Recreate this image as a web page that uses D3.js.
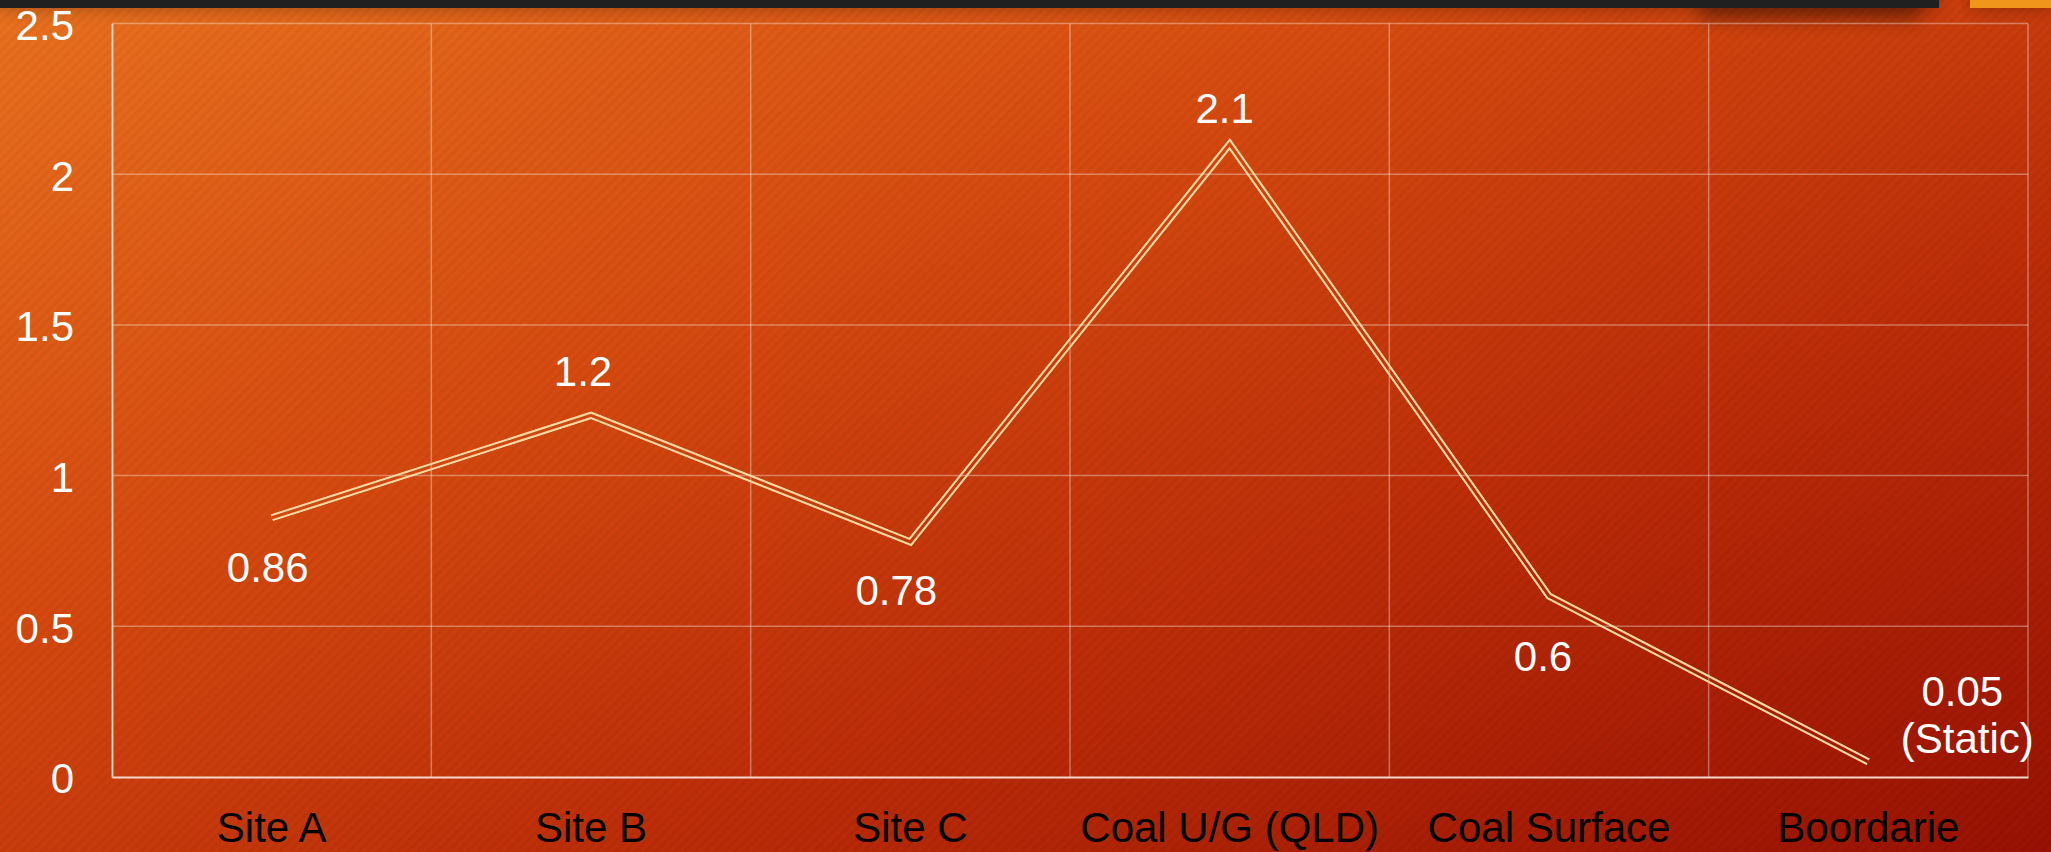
<!DOCTYPE html>
<html>
<head>
<meta charset="utf-8">
<script src="https://cdn.jsdelivr.net/npm/d3@7"></script>
<style>
  html, body { margin: 0; padding: 0; background: #c23a0c; overflow: hidden; }
  svg { display: block; }
  text { font-family: "Liberation Sans", Arial, sans-serif; }
</style>
</head>
<body>
<svg id="chart" width="2051" height="852"></svg>
<script>
// Sites compared and their measured values
const categories = ["Site A", "Site B", "Site C", "Coal U/G (QLD)", "Coal Surface", "Boordarie"];
const values = [0.86, 1.2, 0.78, 2.1, 0.6, 0.05];
const valueNotes = ["", "", "", "", "", "(Static)"];
const yTicks = [0, 0.5, 1, 1.5, 2, 2.5];

const W = 2051, H = 852;
const margin = { left: 112, right: 23, top: 23.5, bottom: 75 };
const FONT = 42;

const svg = d3.select("#chart");
const defs = svg.append("defs");

// Background: diagonal orange-to-red gradient with a fine stripe texture
const bg = defs.append("linearGradient").attr("id", "bgGrad")
  .attr("x1", 0).attr("y1", 0).attr("x2", 1).attr("y2", 1);
[[0, "#e9711f"], [0.35, "#d64b10"], [0.65, "#bc2d08"], [1, "#981103"]].forEach(([o, c]) =>
  bg.append("stop").attr("offset", o).attr("stop-color", c));

const stripes = defs.append("pattern").attr("id", "stripes")
  .attr("patternUnits", "userSpaceOnUse").attr("width", 7).attr("height", 7)
  .attr("patternTransform", "rotate(45)");
stripes.append("rect").attr("width", 3).attr("height", 7).attr("fill", "#000").attr("opacity", 0.04);

const shade = defs.append("filter").attr("id", "shade")
  .attr("x", "-10%").attr("y", "-200%").attr("width", "120%").attr("height", "500%");
shade.append("feGaussianBlur").attr("stdDeviation", 9);

svg.append("rect").attr("width", W).attr("height", H).attr("fill", "url(#bgGrad)");
svg.append("rect").attr("width", W).attr("height", H).attr("fill", "url(#stripes)");

// Header band and its soft shadow
svg.append("rect").attr("x", 0).attr("y", -14).attr("width", 1939).attr("height", 22)
  .attr("fill", "#000").attr("opacity", 0.3).attr("filter", "url(#shade)");
svg.append("rect").attr("x", 1700).attr("y", -10).attr("width", 220).attr("height", 30)
  .attr("fill", "#000").attr("opacity", 0.35).attr("filter", "url(#shade)");
svg.append("rect").attr("x", 1970).attr("y", -12).attr("width", 81).attr("height", 20)
  .attr("fill", "#000").attr("opacity", 0.3).attr("filter", "url(#shade)");
svg.append("rect").attr("x", 0).attr("y", 0).attr("width", 1939).attr("height", 8).attr("fill", "#202020");
svg.append("rect").attr("x", 1970).attr("y", 0).attr("width", 81).attr("height", 8).attr("fill", "#f0961a");

// Scales
const x = d3.scaleBand().domain(categories)
  .range([margin.left, W - margin.right]).paddingInner(0).paddingOuter(0);
const y = d3.scaleLinear().domain([0, 2.5]).range([H - margin.bottom, margin.top]);
const y0 = y(0);

// Gridlines
const grid = svg.append("g");
grid.selectAll(".hgrid").data(yTicks.filter(t => t > 0)).join("line")
  .attr("x1", margin.left).attr("x2", W - margin.right)
  .attr("y1", d => y(d)).attr("y2", d => y(d))
  .attr("stroke", "#ffffff").attr("stroke-opacity", 0.35).attr("stroke-width", 1.5);
const edges = categories.map(c => x(c) + x.bandwidth());
grid.selectAll(".vgrid").data(edges).join("line")
  .attr("x1", d => d).attr("x2", d => d)
  .attr("y1", y(2.5)).attr("y2", y0)
  .attr("stroke", "#ffffff").attr("stroke-opacity", 0.35).attr("stroke-width", 1.5);

// Axes
const yAxis = svg.append("g").attr("transform", `translate(${margin.left},0)`)
  .call(d3.axisLeft(y).tickValues(yTicks).tickSize(0).tickPadding(38).tickFormat(d3.format("~g")));
yAxis.select(".domain").attr("stroke", "#f6d7cb").attr("stroke-width", 1.8);
yAxis.selectAll("text").attr("fill", "#ffffff").attr("font-size", FONT)
  .attr("font-family", "Liberation Sans, Arial, sans-serif").attr("dy", "0.38em");

const xAxis = svg.append("g").attr("transform", `translate(0,${y0})`)
  .call(d3.axisBottom(x).tickSize(0));
xAxis.select(".domain").attr("stroke", "#f6d7cb").attr("stroke-width", 1.8);
xAxis.selectAll("text").attr("fill", "#000000").attr("font-size", FONT)
  .attr("font-family", "Liberation Sans, Arial, sans-serif").attr("y", 65).attr("dy", 0);

// Data line drawn as a double (compound) stroke
const pts = categories.map((c, i) => [x(c) + x.bandwidth() / 2, y(values[i])]);
const line = d3.line();
const OUTER = 7.5, GAP = 3;
const mask = defs.append("mask").attr("id", "dblMask").attr("maskUnits", "userSpaceOnUse")
  .attr("x", 0).attr("y", 0).attr("width", W).attr("height", H);
mask.append("rect").attr("width", W).attr("height", H).attr("fill", "#000");
mask.append("path").attr("d", line(pts)).attr("fill", "none").attr("stroke", "#fff")
  .attr("stroke-width", OUTER).attr("stroke-linejoin", "miter").attr("stroke-miterlimit", 10);
mask.append("path").attr("d", line(pts)).attr("fill", "none").attr("stroke", "#000")
  .attr("stroke-width", GAP).attr("stroke-linejoin", "miter").attr("stroke-miterlimit", 10);
svg.append("path").attr("d", line(pts)).attr("fill", "none").attr("stroke", "#fcd8a0")
  .attr("stroke-width", OUTER).attr("stroke-linejoin", "miter").attr("stroke-miterlimit", 10)
  .attr("mask", "url(#dblMask)");

// Value labels
const labelShift = [[-4, 64], [-8, -29], [-14, 63], [-5, -21], [-6, 75], [94, -56]];
const labels = svg.append("g").attr("fill", "#ffffff").attr("font-size", FONT)
  .attr("text-anchor", "middle");
values.forEach((v, i) => {
  const lx = pts[i][0] + labelShift[i][0];
  const t = labels.append("text").attr("x", lx).attr("y", pts[i][1] + labelShift[i][1]);
  t.append("tspan").attr("x", lx).text(d3.format("~g")(v));
  if (valueNotes[i]) {
    t.append("tspan").attr("x", lx + 5).attr("dy", 47).text(valueNotes[i]);
  }
});
</script>
</body>
</html>
